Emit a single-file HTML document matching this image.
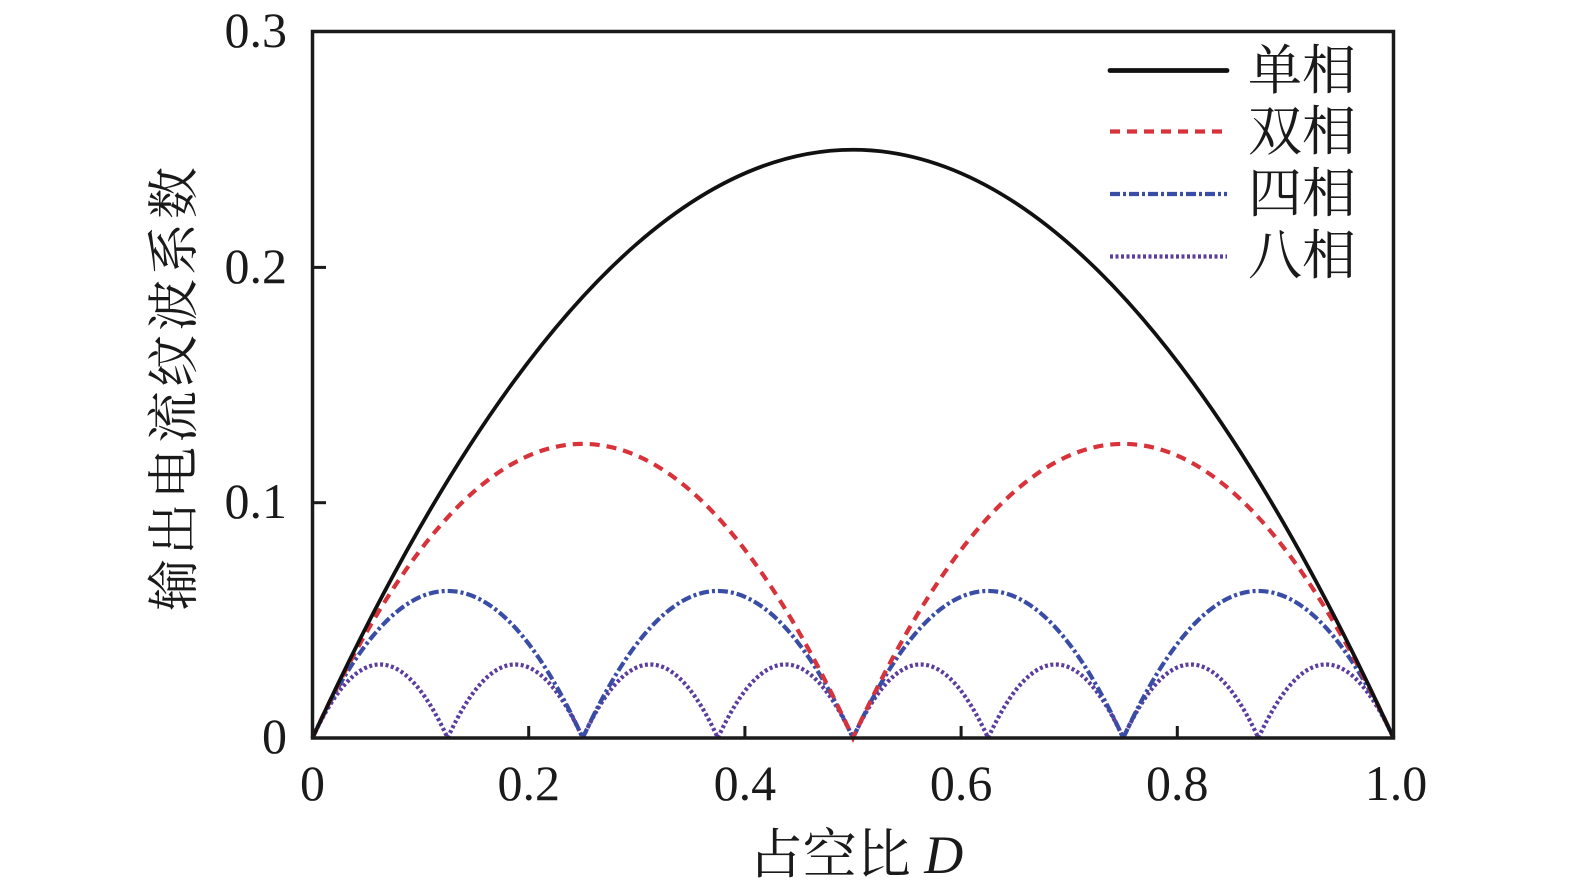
<!DOCTYPE html>
<html>
<head>
<meta charset="utf-8">
<style>
html,body{margin:0;padding:0;background:#fff;}
svg{display:block;}
text{font-family:"Liberation Serif","Noto Serif CJK SC",serif;fill:#1a1a1a;}
.cjk{font-family:"Liberation Serif","Noto Serif CJK SC","Noto Sans CJK SC",serif;}
</style>
</head>
<body>
<svg width="1575" height="890" viewBox="0 0 1575 890" xmlns="http://www.w3.org/2000/svg">
  <rect width="1575" height="890" fill="#fff"/>
  <!-- curves -->
  <g fill="none" stroke-linecap="butt">
    <!-- 8-phase -->
    <path d="M312.5,738 Q380.06,590.94 447.625,738 Q515.19,590.94 582.75,738 Q650.31,590.94 717.875,738 Q785.44,590.94 853,738 Q920.56,590.94 988.125,738 Q1055.69,590.94 1123.25,738 Q1190.81,590.94 1258.375,738 Q1325.94,590.94 1393.5,738" stroke="#5a3d9e" stroke-width="4.2" stroke-dasharray="3 2.5"/>
    <!-- 4-phase -->
    <path d="M312.5,738 Q447.625,443.875 582.75,738 Q717.875,443.875 853,738 Q988.125,443.875 1123.25,738 Q1258.375,443.875 1393.5,738" stroke="#3a4da6" stroke-width="4.2" stroke-dasharray="10 3 3 3"/>
    <!-- 2-phase -->
    <path d="M312.5,738 Q582.75,149.75 853,738 Q1123.25,149.75 1393.5,738" stroke="#d8323a" stroke-width="4.2" stroke-dasharray="10 7"/>
    <!-- single -->
    <path d="M312.5,738 Q853,-438.5 1393.5,738" stroke="#111" stroke-width="3.8"/>
  </g>
  <!-- axes frame -->
  <rect x="312.5" y="31.5" width="1081" height="706.5" fill="none" stroke="#1a1a1a" stroke-width="3.5"/>
  <!-- ticks -->
  <g stroke="#1a1a1a" stroke-width="3">
    <line x1="528.7" y1="738" x2="528.7" y2="726"/>
    <line x1="744.9" y1="738" x2="744.9" y2="726"/>
    <line x1="961.1" y1="738" x2="961.1" y2="726"/>
    <line x1="1177.3" y1="738" x2="1177.3" y2="726"/>
    <line x1="312.5" y1="502.7" x2="326" y2="502.7"/>
    <line x1="312.5" y1="267.4" x2="326" y2="267.4"/>
  </g>
  <!-- y tick labels -->
  <g font-size="50" text-anchor="end">
    <text x="287" y="753">0</text>
    <text x="287" y="518">0.1</text>
    <text x="287" y="283">0.2</text>
    <text x="287" y="47">0.3</text>
  </g>
  <!-- x tick labels -->
  <g font-size="50" text-anchor="middle">
    <text x="312.5" y="800">0</text>
    <text x="528.7" y="800">0.2</text>
    <text x="744.9" y="800">0.4</text>
    <text x="961.1" y="800">0.6</text>
    <text x="1177.3" y="800">0.8</text>
    <text x="1396" y="800">1.0</text>
  </g>
  <!-- axis labels -->
  <text class="cjk" x="856" y="873" font-size="54" text-anchor="middle">占空比 <tspan font-style="italic" font-family="Liberation Serif, serif">D</tspan></text>
  <text class="cjk" transform="translate(192,387) rotate(-90)" font-size="52" text-anchor="middle" letter-spacing="4">输出电流纹波系数</text>
  <!-- legend -->
  <g fill="none" stroke-width="4.2">
    <line x1="1110" y1="70.5" x2="1227" y2="70.5" stroke="#111" stroke-width="4.8" stroke-linecap="round"/>
    <line x1="1110" y1="131.5" x2="1227" y2="131.5" stroke="#d8323a" stroke-dasharray="10 7"/>
    <line x1="1110" y1="194" x2="1227" y2="194" stroke="#3a4da6" stroke-dasharray="10 3 3 3"/>
    <line x1="1110" y1="256.5" x2="1227" y2="256.5" stroke="#5a3d9e" stroke-dasharray="3 2.5"/>
  </g>
  <g class="cjk" font-size="54">
    <text x="1248" y="89">单相</text>
    <text x="1248" y="150">双相</text>
    <text x="1248" y="212">四相</text>
    <text x="1248" y="274">八相</text>
  </g>
</svg>
</body>
</html>
